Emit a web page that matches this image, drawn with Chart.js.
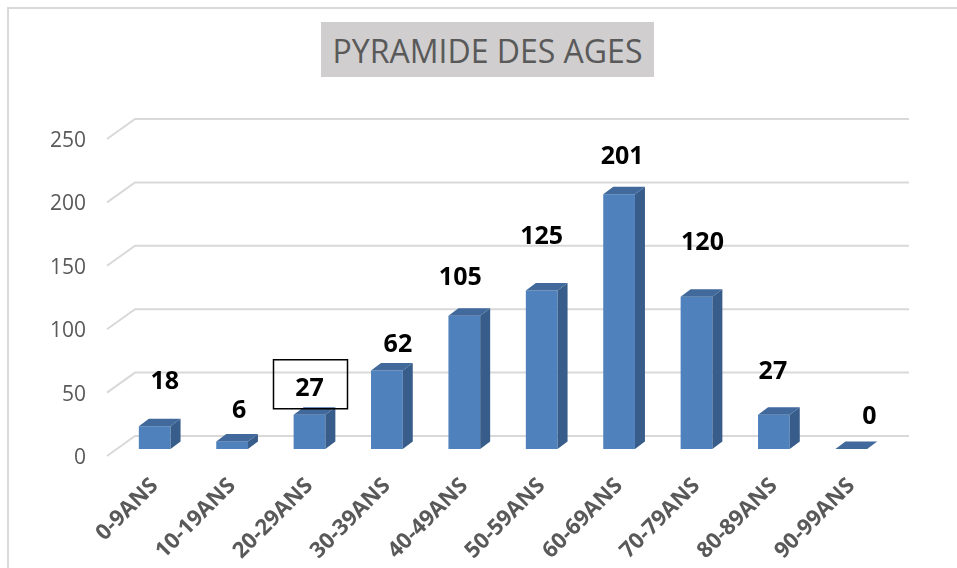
<!DOCTYPE html>
<html>
<head>
<meta charset="utf-8">
<title>Pyramide des ages</title>
<script src="https://cdn.jsdelivr.net/npm/chart.js@4.4.1/dist/chart.umd.min.js"></script>
<style>
  html, body { margin: 0; padding: 0; background: #fff; overflow: hidden; }
  #wrap { position: relative; width: 957px; height: 568px; }
  #frame { position: absolute; left: 7px; top: 7px; width: 1000px; height: 700px;
           border-left: 2px solid #d9d9d9; border-top: 2px solid #d9d9d9; }
  #titre { position: absolute; left: 321px; top: 22px; width: 333px; height: 55px;
           background: #d0cece; color: #595959; font: 32px "Open Sans", sans-serif;
           line-height: 57px; text-align: center; }
  canvas { position: absolute; left: 0; top: 0; }
</style>
</head>
<body>
<div id="wrap">
  <div id="frame"></div>
  <canvas id="pyramide" width="957" height="568"></canvas>
  <div id="titre">PYRAMIDE DES AGES</div>
</div>
<script>
// données
const ageLabels = ['0-9ANS', '10-19ANS', '20-29ANS', '30-39ANS', '40-49ANS',
                   '50-59ANS', '60-69ANS', '70-79ANS', '80-89ANS', '90-99ANS'];
const effectifs = [18, 6, 27, 62, 105, 125, 201, 120, 27, 0];
const yTicks = [0, 50, 100, 150, 200, 250];

// les étiquettes ont été déplacées à la main dans le classeur d'origine
const labelNudge = [[10, -44], [7, -31], [0, -26], [11, -26], [-4, -38],
                    [0, -54], [3, -37], [6, -54], [-1, -43], [18, -32]];
const boxedLabel = 2;

// effet 3D
const depth = { dx: 10, dy: -7.5 };
const colors = { front: '#4F81BD', side: '#385D8A', top: '#41699C' };

const floorGrid = {
  id: 'floorGrid',
  beforeDatasetsDraw(chart) {
    const { ctx, chartArea: a, scales: { y } } = chart;
    ctx.save();
    ctx.strokeStyle = '#d9d9d9';
    ctx.lineWidth = 2;
    yTicks.forEach(v => {
      const py = y.getPixelForValue(v);
      ctx.beginPath();
      ctx.moveTo(a.left - 9, py + 7);
      ctx.lineTo(a.left + 19, py - 13);
      ctx.lineTo(a.right + 19, py - 13);
      ctx.stroke();
    });
    ctx.restore();
  }
};

const bars3d = {
  id: 'bars3d',
  afterDatasetsDraw(chart) {
    const ctx = chart.ctx;
    const meta = chart.getDatasetMeta(0);
    ctx.save();
    meta.data.forEach((bar, i) => {
      const { x, y, base, width } = bar.getProps(['x', 'y', 'base', 'width'], true);
      const l = x - width / 2, r = x + width / 2;
      // côté
      ctx.fillStyle = colors.side;
      ctx.beginPath();
      ctx.moveTo(r, y);
      ctx.lineTo(r + depth.dx, y + depth.dy);
      ctx.lineTo(r + depth.dx, base + depth.dy);
      ctx.lineTo(r, base);
      ctx.closePath();
      ctx.fill();
      // dessus
      ctx.fillStyle = colors.top;
      ctx.beginPath();
      ctx.moveTo(l, y);
      ctx.lineTo(l + depth.dx, y + depth.dy);
      ctx.lineTo(r + depth.dx, y + depth.dy);
      ctx.lineTo(r, y);
      ctx.closePath();
      ctx.fill();

      // valeur
      const tx = x + labelNudge[i][0], ty = y + labelNudge[i][1];
      ctx.fillStyle = '#000';
      ctx.font = 'bold 25px "Open Sans"';
      ctx.textAlign = 'center';
      ctx.textBaseline = 'middle';
      ctx.fillText(String(effectifs[i]), tx, ty);
      if (i === boxedLabel) {
        ctx.strokeStyle = '#000';
        ctx.lineWidth = 1.5;
        ctx.strokeRect(tx - 36, ty - 29, 74, 49);
      }
    });
    ctx.restore();
  }
};

new Chart(document.getElementById('pyramide'), {
  type: 'bar',
  data: {
    labels: ageLabels,
    datasets: [{
      data: effectifs,
      backgroundColor: colors.front,
      barPercentage: 0.41,
      categoryPercentage: 1
    }]
  },
  options: {
    responsive: false,
    animation: false,
    layout: { padding: { top: 132, right: 67, left: 0, bottom: 0 } },
    plugins: { legend: { display: false }, tooltip: { enabled: false } },
    scales: {
      x: {
        grid: { display: false, drawTicks: false },
        border: { display: false },
        ticks: {
          color: '#595959',
          font: { family: 'Open Sans', size: 22, weight: 'bold' },
          minRotation: 45, maxRotation: 45,
          padding: 24
        },
        afterFit: s => { s.height = 119; }
      },
      y: {
        min: 0, max: 250,
        grid: { display: false, drawTicks: false },
        border: { display: false },
        ticks: {
          color: '#595959',
          font: { family: 'Open Sans', size: 21 },
          padding: 30,
          labelOffset: 9
        },
        afterBuildTicks: s => { s.ticks = yTicks.map(v => ({ value: v })); },
        afterFit: s => { s.width = 116; }
      }
    }
  },
  plugins: [floorGrid, bars3d]
});
</script>
</body>
</html>
